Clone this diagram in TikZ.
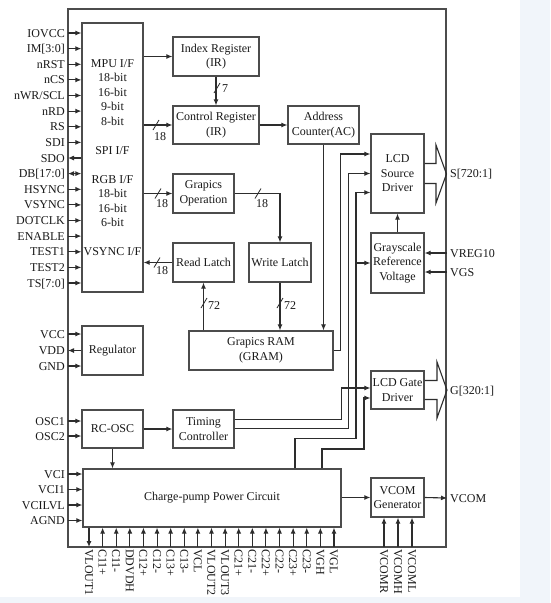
\documentclass[tikz,border=0pt]{standalone}
\usepackage{fontspec}
\setmainfont{Liberation Serif}
\usetikzlibrary{arrows.meta}
\definecolor{tint}{RGB}{241,245,250}
\definecolor{ink}{RGB}{45,45,45}
\begin{document}
\begin{tikzpicture}[x=1pt,y=-1pt,
  every node/.style={font=\fontsize{12}{14.5}\selectfont, text=black!90},
  ln/.style={line width=1.1pt, draw=ink},
  box/.style={line width=1.2pt, draw=black!70, rectangle, inner sep=1pt, align=center},
  arr/.style={ln, -{Latex[length=6pt,width=5pt]}},
  darr/.style={ln, {Latex[length=6pt,width=5pt]}-{Latex[length=6pt,width=5pt]}},
  slash/.style={ln, line width=0.8pt},
  pinl/.style={anchor=east, inner sep=3pt, text height=8pt, text depth=0pt},
  pinr/.style={anchor=west, inner sep=3pt, text height=8pt, text depth=0pt},
  pinb/.style={anchor=west, rotate=-90, inner sep=2pt, text height=8pt, text depth=0pt},
  ]
\useasboundingbox (0,0) rectangle (550,603);
\fill[white] (0,0) rectangle (550,603);
\fill[tint] (520,0) rectangle (550,603);
\fill[tint] (0,597) rectangle (550,603);

% chip frame
\node[box, minimum width=378, minimum height=538] (chip) at (257,278) {};

% blocks
\node[box, minimum width=61, minimum height=269] (mpu) at (112.5,157.5)
  {MPU I/F\\18-bit\\16-bit\\9-bit\\8-bit\\\mbox{}\\SPI I/F\\\mbox{}\\RGB I/F\\18-bit\\16-bit\\6-bit\\\mbox{}\\VSYNC I/F};
\node[box, minimum width=86, minimum height=39] (idx) at (216,56.5) {Index Register\\(IR)};
\node[box, minimum width=86, minimum height=38] (ctrl) at (216,125) {Control Register\\(IR)};
\node[box, minimum width=71, minimum height=38] (ac) at (323.5,125) {Address\\Counter(AC)};
\node[box, minimum width=61, minimum height=39] (gop) at (203.5,193.5) {Grapics\\Operation};
\node[box, minimum width=61, minimum height=39] (rl) at (203.5,262.5) {Read Latch};
\node[box, minimum width=62, minimum height=39] (wl) at (280,262.5) {Write Latch};
\node[box, minimum width=144, minimum height=39] (gram) at (261,350.5) {Grapics RAM\\(GRAM)};
\node[box, minimum width=53, minimum height=79] (src) at (397.5,173.5) {LCD\\Source\\Driver};
\node[box, minimum width=53, minimum height=60] (gray) at (397.5,263) {Grayscale\\Reference\\Voltage};
\node[box, minimum width=53, minimum height=38] (gate) at (397.5,390) {LCD Gate\\Driver};
\node[box, minimum width=61, minimum height=49] (reg) at (112.5,350.5) {Regulator};
\node[box, minimum width=61, minimum height=38] (osc) at (112.5,429) {RC-OSC};
\node[box, minimum width=61, minimum height=38] (tim) at (203.5,429) {Timing\\Controller};
\node[box, minimum width=258, minimum height=58] (cp) at (212,498) {Charge-pump Power Circuit};
\node[box, minimum width=53, minimum height=39] (vcom) at (397.5,497.5) {VCOM\\Generator};

% left pins of MPU
\node[pinl] (p0) at (68,33) {IOVCC};
\node[pinl] (p1) at (68,48.6) {IM[3:0]};
\node[pinl] (p2) at (68,64.3) {nRST};
\node[pinl] (p3) at (68,79.9) {nCS};
\node[pinl] (p4) at (68,95.5) {nWR/SCL};
\node[pinl] (p5) at (68,111.1) {nRD};
\node[pinl] (p6) at (68,126.8) {RS};
\node[pinl] (p7) at (68,142.4) {SDI};
\node[pinl] (p8) at (68,158) {SDO};
\node[pinl] (p9) at (68,173.6) {DB[17:0]};
\node[pinl] (p10) at (68,189.3) {HSYNC};
\node[pinl] (p11) at (68,204.9) {VSYNC};
\node[pinl] (p12) at (68,220.5) {DOTCLK};
\node[pinl] (p13) at (68,236.1) {ENABLE};
\node[pinl] (p14) at (68,251.8) {TEST1};
\node[pinl] (p15) at (68,267.4) {TEST2};
\node[pinl] (p16) at (68,283) {TS[7:0]};
\foreach \i in {0,...,7,10,11,12,13,14,15,16}
  \draw[arr] (p\i.east) -- (mpu.west |- p\i.east);
\draw[arr] (mpu.west |- p8.east) -- (p8.east);
\draw[darr] (p9.east) -- (mpu.west |- p9.east);

% regulator, osc, charge pump left pins
\node[pinl] (pVCC) at (68,334) {VCC};
\node[pinl] (pVDD) at (68,350.5) {VDD};
\node[pinl] (pGND) at (68,366) {GND};
\draw[arr] (pVCC.east) -- (reg.west |- pVCC.east);
\draw[arr] (reg.west |- pVDD.east) -- (pVDD.east);
\draw[arr] (pGND.east) -- (reg.west |- pGND.east);
\node[pinl] (pO1) at (68,421) {OSC1};
\node[pinl] (pO2) at (68,436) {OSC2};
\draw[arr] (pO1.east) -- (osc.west |- pO1.east);
\draw[arr] (pO2.east) -- (osc.west |- pO2.east);
\node[pinl] (pV1) at (68,474) {VCI};
\node[pinl] (pV2) at (68,489.5) {VCI1};
\node[pinl] (pV3) at (68,505) {VCILVL};
\node[pinl] (pV4) at (68,520.5) {AGND};
\foreach \n in {pV1,pV2,pV3,pV4}
  \draw[arr] (\n.east) -- (cp.west |- \n.east);

% bottom pins
\node[pinb] (pB0) at (89,547) {VLOUT1};
\draw[arr] (pB0.west |- cp.south) -- (pB0.west);
\foreach \t [count=\i from 1] in {C11+,C11-,DDVDH,C12+,C12-,C13+,C13-,VCL,VLOUT2,VLOUT3,C21+,C21-,C22+,C22-,C23+,C23-,VGH,VGL}{
  \pgfmathsetmacro\xx{89+13.61*\i}
  \node[pinb] (pB\i) at (\xx,547) {\t};
  \draw[arr] (pB\i.west) -- (pB\i.west |- cp.south);
}
\node[pinb] (pR) at (384,547) {VCOMR};
\node[pinb] (pH) at (398,547) {VCOMH};
\node[pinb] (pL) at (412,547) {VCOML};
\foreach \n in {pR,pH,pL}
  \draw[arr] (\n.west) -- (\n.west |- vcom.south);

% right pins
\node[pinr] (pS) at (447,173.5) {S[720:1]};
\node[pinr] (pG) at (447,390) {G[320:1]};
\node[pinr] (pVR) at (447,253) {VREG10};
\node[pinr] (pVG) at (447,272) {VGS};
\node[pinr] (pVC) at (447,498) {VCOM};
\draw[arr] (pVR.west) -- (pVR.west -| gray.east);
\draw[arr] (pVG.west) -- (pVG.west -| gray.east);
\draw[arr] (vcom.east) -- (pVC.west);

% hollow output arrows
\coordinate (yS1) at (0,163.5);
\coordinate (yS2) at (0,183.5);
\coordinate (yG1) at (0,380.5);
\coordinate (yG2) at (0,399.5);
\draw[ln, line join=miter] (src.east |- yS1) -- (436,163.5) -- (436,145) -- (446.5,174) -- (436,203) -- (436,183.5) -- (src.east |- yS2);
\draw[ln, line join=miter] (gate.east |- yG1) -- (437,380.5) -- (437,362) -- (447,390) -- (437,418) -- (437,399.5) -- (gate.east |- yG2);

% internal connectors
\draw[arr] (mpu.east |- idx.west) -- (idx.west);
\draw[arr] (idx.south) -- (ctrl.north);
\draw[arr] (mpu.east |- ctrl.west) -- (ctrl.west);
\draw[arr] (ctrl.east) -- (ac.west);
\draw[arr] (ac.south) -- (ac.south |- gram.north);
\draw[arr] (mpu.east |- gop.west) -- (gop.west);
\draw[arr] (gop.east) -| (wl.north);
\draw[arr] (rl.west) -- (mpu.east |- rl.west);
\draw[arr] (gram.north -| rl.south) -- (rl.south);
\draw[arr] (wl.south) -- (wl.south |- gram.north);
\draw[arr] (gray.north) -- (src.south);
\draw[arr] (osc.east) -- (tim.west);
\draw[arr] (osc.south) -- (osc.south |- cp.north);
\draw[arr] (cp.east |- vcom.west) -- (vcom.west);

% bus width marks
\draw[slash] (153,130) -- (159,120);
\node (n18a) at (160,137) {18};
\draw[slash] (155,198.5) -- (161,188.5);
\node (n18b) at (162,204) {18};
\draw[slash] (255,198.5) -- (261,188.5);
\node (n18c) at (262,204) {18};
\draw[slash] (154,267.5) -- (160,257.5);
\node (n18d) at (162,271) {18};
\draw[slash] (214,93) -- (220,83);
\node (n7) at (225,89) {7};
\draw[slash] (201,308) -- (207,298);
\node (n72a) at (214,306) {72};
\draw[slash] (277,308) -- (283,298);
\node (n72b) at (290,306) {72};

% routing to drivers
\coordinate (ys1) at (0,154);
\coordinate (ys3) at (0,192.5);
\coordinate (yg1) at (0,388);
\coordinate (yg2) at (0,398);
\coordinate (yt1) at (0,419.5);
\coordinate (yt2) at (0,428.5);
\coordinate (xc1) at (295,0);
\coordinate (xc2) at (322,0);
\draw[arr] (gram.east) -- (340.5,350.5) |- (src.west |- ys1);
\draw[arr] (tim.east |- yt1) -- (341.5,419.5) |- (gate.west |- yg1);
\draw[arr] (tim.east |- yt2) -- (348.5,428.5) |- (src.west);
\draw[arr] (cp.north -| xc1) -- (295,438.5) -- (356,438.5) |- (src.west |- ys3);
\coordinate (jn) at (356,263);
\draw[arr] (jn) -- (gray.west);
\draw[arr] (cp.north -| xc2) -- (322,449) -- (364,449) |- (gate.west |- yg2);
\end{tikzpicture}
\end{document}
